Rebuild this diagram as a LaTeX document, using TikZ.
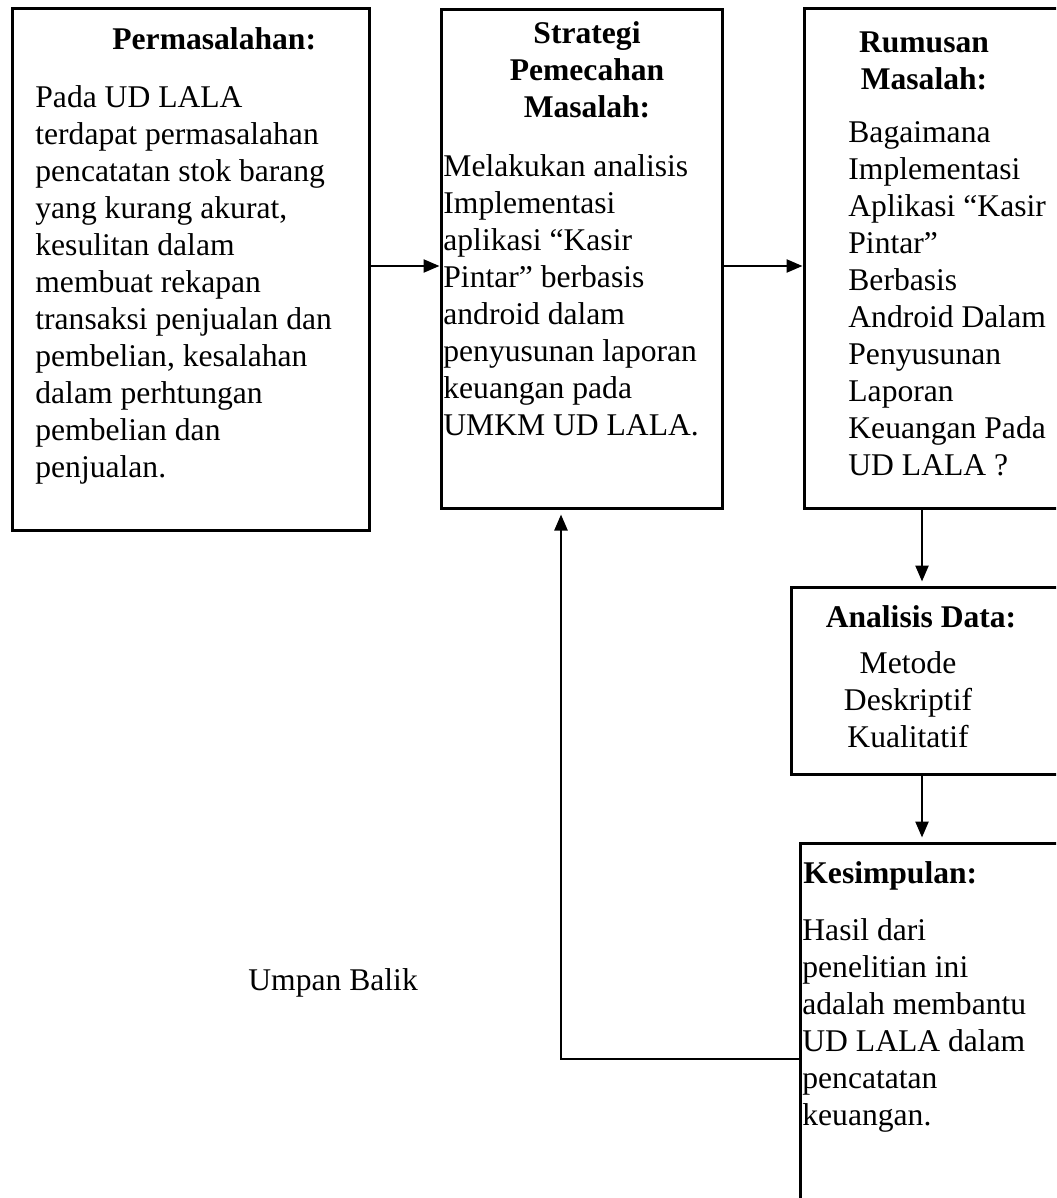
\documentclass[tikz,border=0pt]{standalone}
\usepackage{fontspec}
\setmainfont{Liberation Serif}
\usepackage{tikz}
\usetikzlibrary{arrows.meta,positioning}
\usetikzlibrary{calc}
\tikzset{
kotak/.style={
  draw=black, line width=1.5pt, rectangle,
  inner sep=0pt, fill=none
  },
judul/.style={
  font=\fontsize{15.8pt}{18.5pt}\selectfont\bfseries,
  inner sep=0pt, align=center
  },
isi/.style={
  font=\fontsize{15.8pt}{18.5pt}\selectfont,
  inner sep=0pt, align=left
  }
}
\tikzset{
  garis/.style={line width=1.2pt},
  garisv/.style={line width=1.2pt, shorten >=2pt}
}

\begin{document}
\begin{tikzpicture}[x=0.5pt,y=-0.5pt,>={Triangle[length=8pt,width=6.5pt]}]
\useasboundingbox (0,0) rectangle (1056,1198);
\clip (0,0) rectangle (1056,1198);

% kotak-kotak
\node[kotak, minimum width=178.5pt, minimum height=260.5pt] (masalah)  at (190.5,269.5) {};
\node[kotak, minimum width=140.5pt, minimum height=249pt]   (strategi) at (581.5,259) {};
\node[kotak, minimum width=138pt,   minimum height=249.5pt] (rumusan)  at (942,258.5) {};
\node[kotak, minimum width=144.5pt, minimum height=93.5pt]  (analisis) at (935.5,680.5) {};
\node[kotak, minimum width=140pt,   minimum height=193.5pt] (kesimpulan) at (940,1036.5) {};

% isi kotak 1 (base = baris terakhir)
\node[judul, anchor=base west] (judul1) at (112,50) {Permasalahan:};
\node[isi, anchor=base west] (isi1) at (35,477)
  {Pada UD LALA\\
   terdapat permasalahan\\
   pencatatan stok barang\\
   yang kurang akurat,\\
   kesulitan dalam\\
   membuat rekapan\\
   transaksi penjualan dan\\
   pembelian, kesalahan\\
   dalam perhtungan\\
   pembelian dan\\
   penjualan.};

% isi kotak 2
\node[judul, anchor=base] (judul2) at (587,118) {Strategi\\Pemecahan\\Masalah:};
\node[isi, anchor=base west] (isi2) at (443,435)
  {Melakukan analisis\\
   Implementasi\\
   aplikasi “Kasir\\
   Pintar” berbasis\\
   android dalam\\
   penyusunan laporan\\
   keuangan pada\\
   UMKM UD LALA.};

% isi kotak 3
\node[judul, anchor=base] (judul3) at (924,90) {Rumusan\\Masalah:};
\node[isi, anchor=base west] (isi3) at (848,475)
  {Bagaimana\\
   Implementasi\\
   Aplikasi “Kasir\\
   Pintar”\\
   Berbasis\\
   Android Dalam\\
   Penyusunan\\
   Laporan\\
   Keuangan Pada\\
   UD LALA ?};

% isi kotak 4
\node[judul, anchor=base] (judul4) at (921,627) {Analisis Data:};
\node[isi, align=center, anchor=base] (isi4) at (908,747)
  {Metode\\Deskriptif\\Kualitatif};

% isi kotak 5
\node[judul, anchor=base west] (judul5) at (803,883) {Kesimpulan:};
\node[isi, anchor=base west] (isi5) at (802,1125)
  {Hasil dari\\
   penelitian ini\\
   adalah membantu\\
   UD LALA dalam\\
   pencatatan\\
   keuangan.};

\node[isi, anchor=base west] (umpan) at (248,990) {Umpan Balik};

% panah
\coordinate (jalur) at (922,0);
\coordinate (kanan) at (0,266);
\coordinate (balik) at (561,1059);

\draw[->,garis] (masalah.east |- kanan) -- (strategi.west |- kanan);
\draw[->,garis] (strategi.east |- kanan) -- (rumusan.west |- kanan);
\draw[->,garisv] (rumusan.south -| jalur) -- (analisis.north -| jalur);
\draw[->,garisv] (analisis.south -| jalur) -- (kesimpulan.north -| jalur);
\draw[->,garisv,shorten >=2.5pt]
  (kesimpulan.west |- balik) -- (balik) -- (strategi.south -| balik);

\end{tikzpicture}
\end{document}
